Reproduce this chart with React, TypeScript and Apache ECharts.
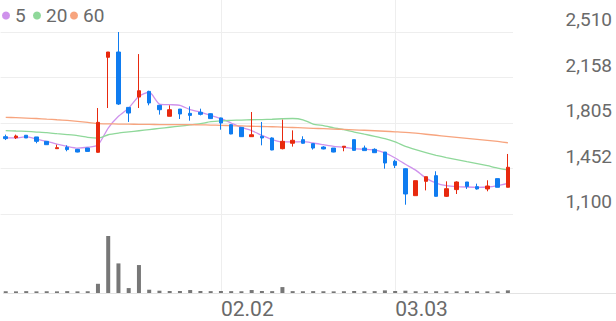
import React, { useEffect, useRef } from "react";
import * as echarts from "echarts";

const dates = [
  "01.02", "01.05", "01.06", "01.07", "01.08", "01.09", "01.12", "01.13", "01.14", "01.15",
  "01.16", "01.19", "01.20", "01.21", "01.22", "01.23", "01.26", "01.27", "01.28", "01.29",
  "01.30", "02.02", "02.03", "02.04", "02.05", "02.06", "02.09", "02.10", "02.11", "02.12",
  "02.13", "02.19", "02.20", "02.23", "02.24", "02.25", "02.26", "02.27", "03.03", "03.04",
  "03.05", "03.06", "03.09", "03.10", "03.11", "03.12", "03.13", "03.16", "03.17", "03.18",
];

const opens = [
  1699, 1691, 1710, 1697, 1663, 1606, 1617, 1601, 1611, 1578,
  2314, 2355, 1926, 2006, 2050, 1942, 1857, 1913, 1880, 1888,
  1877, 1844, 1792, 1771, 1699, 1702, 1689, 1606, 1648, 1676,
  1645, 1619, 1611, 1617, 1676, 1611, 1601, 1580, 1508, 1451,
  1242, 1353, 1397, 1237, 1289, 1348, 1312, 1294, 1374, 1307,
];
const closes = [
  1684, 1704, 1689, 1663, 1637, 1614, 1599, 1580, 1585, 1810,
  2355, 1952, 1882, 2055, 1960, 1908, 1908, 1875, 1864, 1872,
  1839, 1805, 1720, 1699, 1714, 1689, 1596, 1663, 1671, 1648,
  1611, 1604, 1580, 1625, 1593, 1591, 1575, 1495, 1477, 1255,
  1358, 1389, 1237, 1296, 1348, 1314, 1294, 1317, 1307, 1462,
];
const lows = [
  1673, 1681, 1689, 1648, 1637, 1604, 1586, 1578, 1583, 1575,
  1921, 1945, 1813, 1921, 1942, 1870, 1857, 1836, 1823, 1864,
  1836, 1753, 1718, 1697, 1699, 1632, 1594, 1601, 1622, 1645,
  1599, 1601, 1578, 1586, 1591, 1591, 1573, 1451, 1456, 1172,
  1242, 1283, 1235, 1232, 1255, 1294, 1289, 1276, 1307, 1307,
];
const highs = [
  1715, 1715, 1712, 1697, 1663, 1637, 1632, 1604, 1611, 1921,
  2355, 2510, 1926, 2339, 2055, 1945, 1942, 1913, 1934, 1916,
  1880, 1846, 1795, 1771, 1890, 1813, 1694, 1831, 1748, 1702,
  1645, 1625, 1611, 1627, 1676, 1630, 1609, 1580, 1521, 1454,
  1358, 1389, 1431, 1353, 1353, 1348, 1335, 1361, 1374, 1565,
];

const ma5 = [
  1689, 1689, 1699, 1681, 1663, 1642, 1624, 1611, 1617, 1634,
  1766, 1857, 1921, 2012, 2045, 1952, 1947, 1942, 1908, 1890,
  1864, 1839, 1805, 1771, 1746, 1709, 1676, 1658, 1658, 1660,
  1650, 1637, 1624, 1617, 1606, 1601, 1596, 1573, 1534, 1485,
  1440, 1378, 1340, 1320, 1312, 1309, 1307, 1309, 1320, 1338,
];
const ma20 = [
  1746, 1743, 1740, 1735, 1730, 1722, 1715, 1707, 1694, 1688,
  1714, 1727, 1736, 1745, 1754, 1763, 1772, 1781, 1790, 1800,
  1815, 1822, 1825, 1828, 1830, 1831, 1834, 1838, 1840, 1830,
  1797, 1784, 1768, 1753, 1735, 1718, 1702, 1684, 1658, 1624,
  1598, 1575, 1555, 1537, 1521, 1505, 1490, 1474, 1456, 1441,
];
const ma60 = [
  1849, 1846, 1843, 1840, 1835, 1830, 1825, 1818, 1810, 1800,
  1798, 1797, 1796, 1795, 1794, 1793, 1793, 1792, 1792, 1791,
  1789, 1787, 1784, 1782, 1780, 1778, 1776, 1773, 1770, 1767,
  1764, 1761, 1758, 1755, 1752, 1749, 1745, 1741, 1737, 1733,
  1726, 1718, 1710, 1702, 1694, 1686, 1678, 1670, 1662, 1652,
];

const volumes = [
  160, 150, 170, 150, 160, 150, 170, 150, 160, 840,
  5200, 2700, 450, 2550, 300, 210, 180, 180, 270, 180,
  170, 180, 170, 160, 270, 180, 170, 540, 170, 160,
  170, 160, 150, 160, 180, 160, 170, 240, 180, 210,
  160, 150, 160, 150, 150, 160, 150, 150, 140, 240,
];

const maNames = ["5", "20", "60"];
const maColors = ["#cf92ec", "#8fd89a", "#f7a47e"];
const legendLefts = [2, 33, 70];

const yMin = 1100;
const yMax = 2510;
const yInterval = 352.5;
const yTickLabels = ["1,100", "1,452", "1,805", "2,158", "2,510"];

const UP = "#e8290e";
const DOWN = "#0f7cf0";
const TEXT = "#6a6a6a";
const GRIDLINE = "#eeeeee";

const isMonthStart = (idx: number) =>
  idx > 0 && dates[idx].slice(0, 2) !== dates[idx - 1].slice(0, 2);

export default function App() {
  const ref = useRef<HTMLDivElement>(null);

  useEffect(() => {
    if (!ref.current) return;
    const chart = echarts.init(ref.current, undefined, { renderer: "svg" });
    const candles = opens.map((o, i) => [o, closes[i], lows[i], highs[i]]);
    const maData = [ma5, ma20, ma60];

    chart.setOption({
      animation: false,
      textStyle: { fontFamily: "Roboto" },
      legend: maNames.map((name, k) => ({
        data: [name],
        left: legendLefts[k],
        top: 6,
        padding: 0,
        icon: "circle",
        itemWidth: 8,
        itemHeight: 8,
        selectedMode: false,
        textStyle: { fontSize: 19, color: TEXT, fontFamily: "Roboto" },
      })),
      grid: [
        { left: 0.6, right: 103, top: 32, height: 182 },
        { left: 0.6, right: 103, top: 236, bottom: 28 },
        { left: 5.72, right: 108.1, top: 0, bottom: 28 },
      ],
      xAxis: [
        {
          type: "category",
          gridIndex: 0,
          data: dates,
          boundaryGap: true,
          axisLine: { show: false },
          axisTick: { show: false },
          axisLabel: { show: false },
          splitLine: { show: false },
        },
        {
          type: "category",
          gridIndex: 1,
          data: dates,
          boundaryGap: true,
          axisLine: { show: false },
          axisTick: { show: false },
          axisLabel: { show: false },
          splitLine: { show: false },
        },
        {
          type: "category",
          gridIndex: 2,
          data: dates,
          boundaryGap: false,
          axisLine: { show: false },
          axisTick: { show: false },
          axisLabel: {
            interval: (idx: number) => isMonthStart(idx),
            align: "left",
            fontSize: 21,
            color: TEXT,
            margin: 5,
            fontFamily: "Roboto",
          },
          splitLine: {
            show: true,
            interval: (idx: number) => isMonthStart(idx),
            lineStyle: { color: GRIDLINE, width: 1 },
          },
        },
      ],
      yAxis: [
        {
          type: "value",
          gridIndex: 0,
          position: "right",
          min: yMin,
          max: yMax,
          interval: yInterval,
          axisLine: { show: false },
          axisTick: { show: false },
          splitLine: { show: true, lineStyle: { color: GRIDLINE, width: 1 } },
          axisLabel: {
            align: "right",
            verticalAlign: "bottom",
            margin: 99,
            padding: [0, 0, 3, 0],
            fontSize: 19,
            color: TEXT,
            fontFamily: "Roboto",
            formatter: (v: number) => yTickLabels[Math.round((v - yMin) / yInterval)] ?? "",
          },
        },
        {
          type: "value",
          gridIndex: 1,
          min: 0,
          max: "dataMax",
          show: false,
          splitLine: { show: false },
        },
        {
          type: "value",
          gridIndex: 2,
          min: 0,
          max: 1,
          show: false,
          splitLine: { show: false },
        },
      ],
      graphic: [
        {
          type: "line",
          silent: true,
          z: 0,
          shape: { x1: 3, y1: 293.5, x2: 616, y2: 293.5 },
          style: { stroke: "#e3e3e3", lineWidth: 1 },
        },
      ],
      series: [
        ...maNames.map((name, k) => ({
          name,
          type: "line",
          xAxisIndex: 0,
          yAxisIndex: 0,
          data: maData[k],
          symbol: "none",
          smooth: 0.2,
          z: 2,
          itemStyle: { color: maColors[k] },
          lineStyle: { color: maColors[k], width: 1.3 },
        })),
        {
          name: "price",
          type: "candlestick",
          xAxisIndex: 0,
          yAxisIndex: 0,
          data: candles,
          barWidth: 4,
          z: 3,
          itemStyle: {
            color: UP,
            color0: DOWN,
            borderColor: UP,
            borderColor0: DOWN,
            borderWidth: 1,
          },
        },
        {
          name: "volume",
          type: "bar",
          xAxisIndex: 1,
          yAxisIndex: 1,
          data: volumes,
          barWidth: 4,
          itemStyle: { color: "#777777" },
        },
      ],
    });

    return () => chart.dispose();
  }, []);

  return (
    <div
      ref={ref}
      style={{ position: "fixed", left: 0, top: 0, width: 616, height: 321, background: "#fff" }}
    />
  );
}
